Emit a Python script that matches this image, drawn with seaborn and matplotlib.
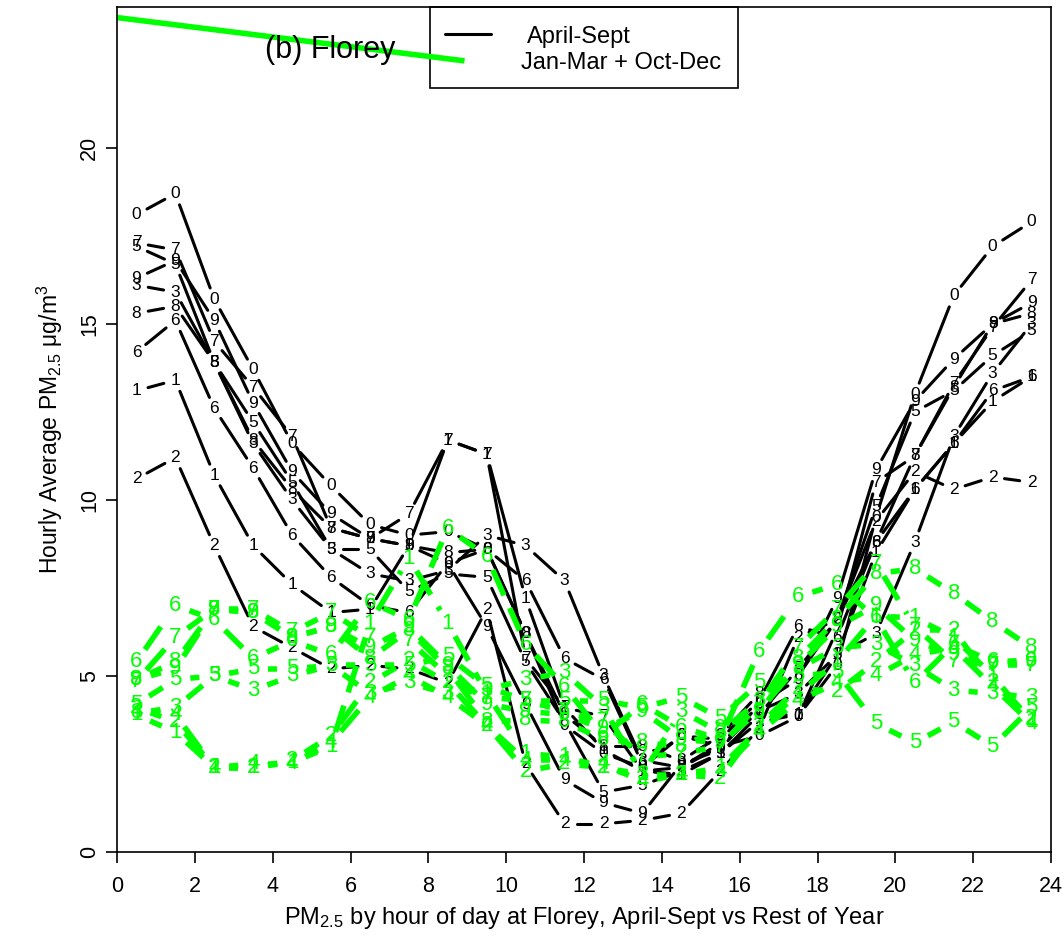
import numpy as np
import pandas as pd
import matplotlib
matplotlib.use("Agg")
import matplotlib.pyplot as plt
import seaborn as sns
from matplotlib.patches import Rectangle

hours = np.arange(24) + 0.5

# April-Sept hourly means, one list per year label
aps0 = [18.1, 18.7, 15.7, 13.7, 11.6, 10.4, 9.3, 9.0, 9.1, 8.6, 6.2, 3.6, 2.8, 2.4, 3.3, 3.0, 3.3, 3.85, 5.3, 9.5, 13.0, 15.8, 17.2, 17.9]
aps1 = [13.1, 13.4, 10.7, 8.7, 7.6, 6.8, 6.9, 8.7, 11.7, 11.3, 7.2, 4.1, 2.9, 2.3, 2.2, 2.8, 3.7, 3.9, 5.6, 8.5, 10.3, 11.6, 12.8, 13.5]
aps2 = [10.6, 11.2, 8.7, 6.4, 5.8, 5.2, 5.3, 5.2, 4.8, 6.9, 2.5, 0.8, 0.8, 0.9, 1.1, 2.3, 3.5, 6.1, 6.6, 9.4, 10.8, 10.3, 10.65, 10.5]
aps3 = [16.1, 15.9, 13.9, 11.6, 10.0, 8.6, 7.9, 7.7, 8.0, 9.0, 8.7, 7.7, 5.0, 2.6, 2.4, 3.0, 4.0, 4.5, 5.6, 6.2, 8.8, 11.8, 13.6, 15.0]
aps5 = [17.2, 16.7, 13.9, 12.2, 10.5, 8.6, 8.6, 7.4, 7.9, 7.8, 5.4, 3.7, 1.7, 1.9, 2.3, 2.8, 3.9, 5.2, 6.6, 9.8, 12.5, 13.1, 14.1, 14.8]
aps6 = [14.2, 15.1, 12.6, 10.9, 9.0, 7.8, 7.0, 6.8, 8.2, 8.6, 7.7, 5.5, 4.9, 2.5, 3.3, 3.2, 4.3, 6.4, 6.1, 8.8, 10.3, 11.6, 13.1, 13.5]
aps7 = [17.3, 17.1, 14.5, 13.2, 11.8, 9.2, 8.9, 9.6, 11.7, 11.3, 5.5, 4.1, 3.85, 2.3, 2.4, 3.1, 4.0, 3.85, 6.3, 10.5, 11.25, 13.3, 14.9, 16.25]
aps8 = [15.3, 15.5, 13.9, 11.7, 10.3, 9.2, 8.9, 8.7, 8.5, 8.6, 6.2, 3.9, 3.0, 3.0, 2.6, 3.3, 4.5, 5.0, 6.6, 8.8, 11.25, 13.2, 15.0, 15.3]
aps9 = [16.3, 16.8, 15.1, 12.75, 10.8, 9.6, 8.9, 8.7, 8.2, 6.4, 4.2, 2.05, 1.4, 1.1, 2.5, 2.9, 4.2, 4.9, 7.2, 10.85, 12.8, 14.0, 15.0, 15.6]

# Jan-Mar + Oct-Dec hourly means
rest1 = [3.9, 3.4, 2.4, 2.4, 2.55, 3.0, 6.5, 8.35, 6.5, 4.5, 2.8, 2.7, 2.4, 2.2, 2.2, 2.4, 3.5, 4.5, 5.4, 6.7, 6.65, 6.1, 5.0, 3.7]
rest2 = [4.1, 3.7, 2.4, 2.4, 2.6, 3.3, 4.8, 5.45, 4.8, 3.6, 2.3, 2.5, 2.4, 2.1, 2.2, 2.1, 3.6, 4.65, 4.55, 5.4, 6.3, 6.3, 4.8, 3.8]
rest3 = [3.95, 4.1, 5.0, 4.6, 5.0, 5.3, 4.5, 4.8, 4.5, 4.6, 4.9, 5.1, 4.1, 2.2, 4.0, 3.4, 4.3, 5.2, 5.8, 5.9, 5.3, 4.6, 4.5, 4.4]
rest4 = [4.0, 3.9, 2.4, 2.5, 2.5, 3.1, 4.4, 5.0, 4.4, 3.6, 2.6, 2.6, 2.5, 2.0, 2.2, 2.3, 3.4, 4.3, 4.8, 5.0, 5.6, 5.8, 4.7, 3.65]
rest5 = [4.2, 4.9, 5.0, 5.2, 5.2, 5.3, 5.3, 5.3, 5.55, 4.7, 4.3, 4.3, 4.3, 4.1, 4.4, 3.8, 4.8, 5.0, 5.1, 3.65, 3.1, 3.7, 3.0, 4.1]
rest6 = [5.4, 7.0, 6.6, 5.5, 6.0, 5.6, 7.1, 6.6, 9.2, 8.4, 5.9, 4.7, 3.3, 4.2, 3.55, 3.2, 5.7, 7.25, 7.6, 6.65, 4.8, 5.9, 5.4, 5.45]
rest7 = [4.85, 6.1, 6.9, 6.9, 6.25, 6.8, 6.1, 6.0, 5.0, 4.4, 4.3, 4.0, 3.7, 2.7, 2.8, 3.0, 4.2, 5.8, 6.9, 8.2, 6.4, 5.4, 5.3, 5.3]
rest8 = [4.9, 5.4, 6.9, 6.8, 6.1, 6.4, 5.5, 6.3, 5.2, 3.7, 3.75, 3.7, 3.2, 3.1, 3.0, 3.5, 3.95, 5.5, 6.6, 7.9, 8.05, 7.35, 6.55, 5.8]
rest9 = [4.9, 5.2, 6.9, 6.8, 6.1, 6.4, 5.8, 6.4, 5.3, 4.2, 4.0, 3.9, 3.5, 4.0, 3.2, 3.1, 4.0, 5.3, 6.4, 7.0, 6.0, 5.6, 5.35, 5.4]

# stray green legend line that ended up in the plot region
stray_x = [0, 8.93]
stray_y = [23.7, 22.47]

apr_sep = {"0": aps0, "1": aps1, "2": aps2, "3": aps3, "5": aps5,
           "6": aps6, "7": aps7, "8": aps8, "9": aps9}
rest_year = {"1": rest1, "2": rest2, "3": rest3, "4": rest4, "5": rest5,
             "6": rest6, "7": rest7, "8": rest8, "9": rest9}

sns.set_theme(style="ticks")
plt.rcParams["font.family"] = ["Liberation Sans", "DejaVu Sans"]
plt.rcParams["mathtext.fontset"] = "custom"
plt.rcParams["mathtext.rm"] = "Liberation Sans"
plt.rcParams["mathtext.it"] = "Liberation Sans"
plt.rcParams["text.color"] = "black"
plt.rcParams["axes.labelcolor"] = "black"

W, H = 1062, 944
fig = plt.figure(figsize=(W / 100, H / 100), dpi=100)
ax = fig.add_axes([117 / W, 92 / H, 934 / W, 845 / H])
ax.set_xlim(0, 24)
ax.set_ylim(0, 24)
sx = 934 / 24.0
sy = 845 / 24.0


def gapped(series, gap):
    # R type="b": segments stop short of the plotted characters
    rows = []
    for lab, vals in series.items():
        for i in range(len(hours) - 1):
            x0, y0, x1, y1 = hours[i], vals[i], hours[i + 1], vals[i + 1]
            L = np.hypot((x1 - x0) * sx, (y1 - y0) * sy)
            if L <= 2 * gap:
                continue
            f = gap / L
            key = lab + "-" + str(i)
            rows.append((key, x0 + f * (x1 - x0), y0 + f * (y1 - y0)))
            rows.append((key, x1 - f * (x1 - x0), y1 - f * (y1 - y0)))
    return pd.DataFrame(rows, columns=["seg", "x", "y"])


green = "#00ff00"

seg_b = gapped(apr_sep, 12)
sns.lineplot(data=seg_b, x="x", y="y", units="seg", estimator=None, sort=False,
             color="black", lw=2.2, ax=ax, legend=False)
for lab, vals in apr_sep.items():
    for h, v in zip(hours, vals):
        ax.text(h, v, lab, ha="center", va="center", color="black", fontsize=12.5)

seg_g = gapped(rest_year, 15)
sns.lineplot(data=seg_g, x="x", y="y", units="seg", estimator=None, sort=False,
             color=green, lw=4, linestyle=(0, (5, 2.5)), ax=ax, legend=False)
for lab, vals in rest_year.items():
    for h, v in zip(hours, vals):
        ax.text(h, v, lab, ha="center", va="center", color=green, fontsize=16)

ax.plot(stray_x, stray_y, color=green, lw=4, solid_capstyle="butt")

ax.set_xticks(range(0, 25, 2))
ax.set_yticks([0, 5, 10, 15, 20])
ax.tick_params(labelsize=15.5, length=8, width=1.2, direction="out", colors="black")
ax.tick_params(axis="x", pad=9)
ax.tick_params(axis="y", pad=4)
for t in ax.get_yticklabels():
    t.set_rotation(90)
    t.set_va("center")
for s in ax.spines.values():
    s.set_visible(True)
    s.set_linewidth(1.2)
    s.set_color("black")

ax.set_xlabel("PM$_{2.5}$ by hour of day at Florey, April-Sept vs Rest of Year", fontsize=17, labelpad=6)
ax.set_ylabel("Hourly Average PM$_{2.5}$ \u03bcg/m$^3$", fontsize=16.5, labelpad=10)

# title text and legend box inside the plot
ax.text(0.228, 0.949, "(b) Florey", transform=ax.transAxes, ha="center", va="center", fontsize=22)
ax.add_patch(Rectangle((0.335, 1 - 0.0959), 0.3298, 0.0959, transform=ax.transAxes,
                       fill=False, edgecolor="black", lw=1.2, clip_on=False))
ax.plot([0.351, 0.400], [0.968, 0.968], transform=ax.transAxes, color="black", lw=2.2)
ax.text(0.439, 0.9645, "April-Sept", transform=ax.transAxes, ha="left", va="center", fontsize=17)
ax.text(0.4325, 0.934, "Jan-Mar + Oct-Dec", transform=ax.transAxes, ha="left", va="center", fontsize=17)

fig.savefig("out.png", dpi=100)
